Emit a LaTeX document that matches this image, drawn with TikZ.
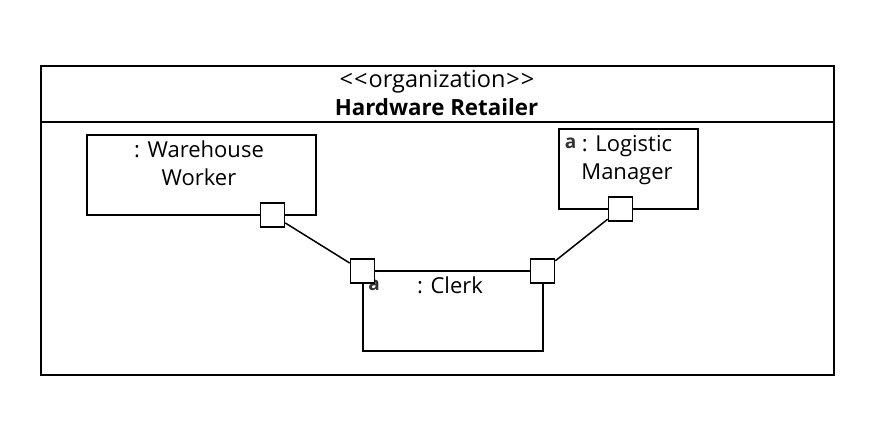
\documentclass[tikz,border=0pt]{standalone}
\usepackage{fontspec}
\setmainfont{Open Sans}
\tikzset{
  x=1pt,y=-1pt,
  frame/.style={draw=black,line width=1.6pt,fill=white},
  part/.style={draw=black,line width=1.5pt,fill=white,minimum width=0,inner sep=0pt},
  portbox/.style={draw=black,line width=1.5pt,fill=white,minimum width=24pt,minimum height=24pt,inner sep=0pt},
  label/.style={font=\fontsize{22}{28}\selectfont,align=center,inner sep=0pt,text=black},
  titlelabel/.style={font=\fontsize{23.5}{28}\selectfont,align=center,inner sep=0pt,text=black},
  boldlabel/.style={font=\fontsize{22.3}{28}\selectfont\bfseries,align=center,inner sep=0pt,text=black},
  iconmark/.style={inner sep=0pt,text=black!80,font=\fontsize{19}{19}\selectfont\bfseries}
}
\begin{document}
\begin{tikzpicture}
\useasboundingbox (0,0) rectangle (871,432);
\fill[white] (0,0) rectangle (871,432);
% outer frame
\draw[frame] (41,66) rectangle (834,375);
\draw[frame] (41,122) -- (834,122);
\node[titlelabel] (title) at (437,81.5) {{<}\kern1pt{<}\kern1pt organization\kern1pt{>}\kern1pt{>}};
\node[boldlabel] (name) at (436.5,107) {Hardware Retailer};
% parts
\draw[part] (87,135) rectangle (316,215);
\draw[part] (559,129) rectangle (698,209);
\draw[part] (363,271) rectangle (543,351);
\node[label] (ww) at (199,163) {: Warehouse\\Worker};
\node[label] (lm) at (627,160) {: Logistic\\Manager};
\node[label] (cl) at (450,285.5) {: Clerk};
\node[iconmark,anchor=base] (ia) at (570.5,148) {a};
\node[iconmark,anchor=base] (ib) at (374,290) {a};
% ports
\node[portbox] (p1) at (272.5,215) {};
\node[portbox] (p2) at (362.5,271) {};
\node[portbox] (p3) at (542.5,271) {};
\node[portbox] (p4) at (620.5,209) {};
\draw[draw=black,line width=1.5pt] (p1) -- (p2);
\draw[draw=black,line width=1.5pt] (p3) -- (p4);
\end{tikzpicture}
\end{document}
